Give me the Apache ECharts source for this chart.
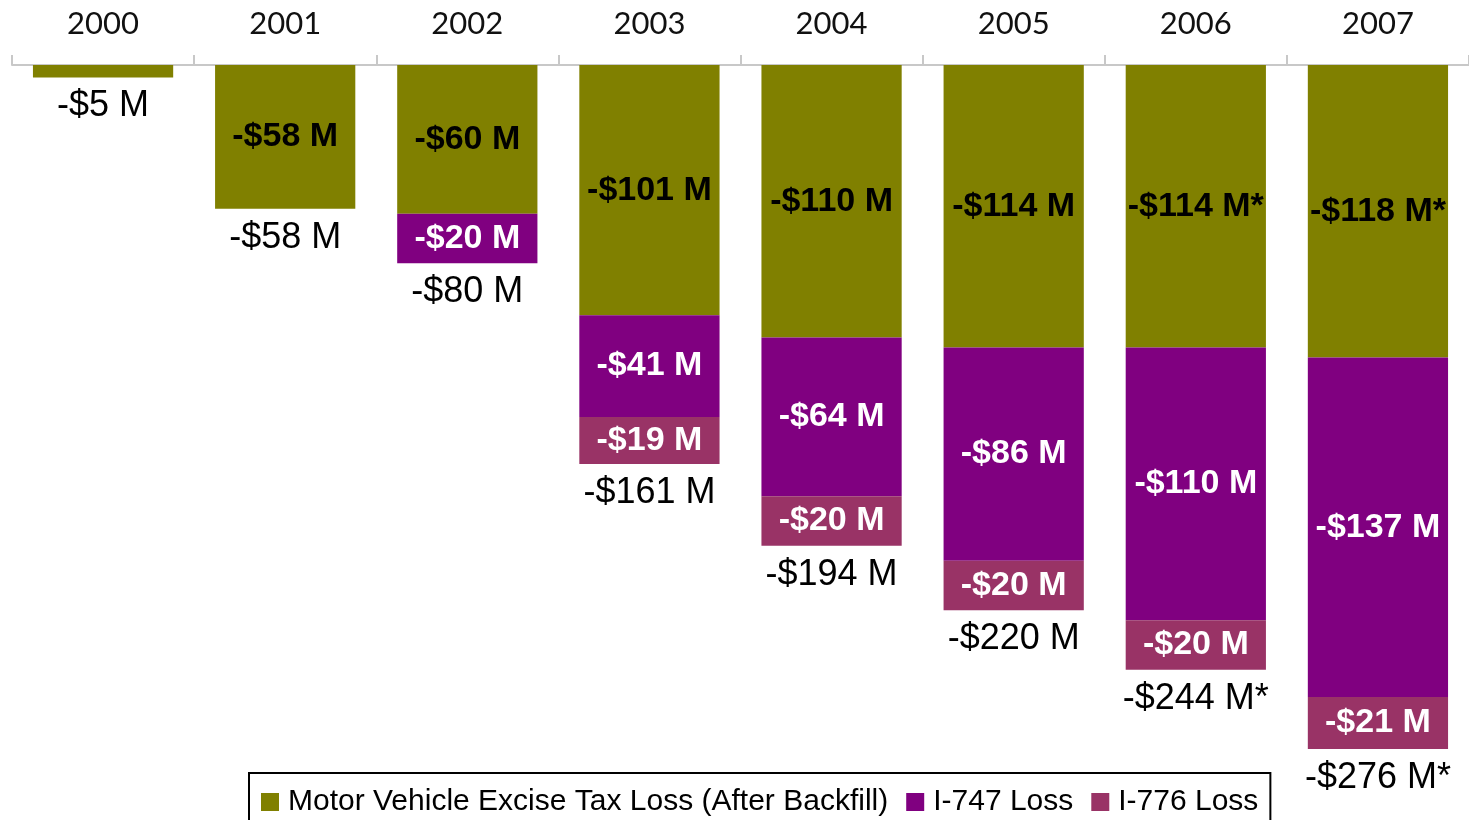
<!DOCTYPE html>
<html>
<head>
<meta charset="utf-8">
<script src="https://cdn.jsdelivr.net/npm/echarts@6/dist/echarts.min.js"></script>
<style>
  html, body { margin: 0; padding: 0; background: #fff; }
  #main { width: 1469px; height: 820px; }
</style>
</head>
<body>
<div id="main"></div>
<script>
const years = ['2000', '2001', '2002', '2003', '2004', '2005', '2006', '2007']
// values in $ millions (losses, so negative)
const mvetLoss = [-5, -58, -60, -101, -110, -114, -114, -118]
const i747Loss = [0, 0, -20, -41, -64, -86, -110, -137]
const i776Loss = [0, 0, 0, -19, -20, -20, -20, -21]
const totalLoss = [-5, -58, -80, -161, -194, -220, -244, -276]
const estimated = [false, false, false, false, false, false, true, true]

const chart = echarts.init(document.getElementById('main'))

function money(v, star) {
  return '-$' + Math.abs(v) + ' M' + (star ? '*' : '')
}

const insideLabel = (color, starred) => ({
  show: true,
  position: 'inside',
  color: color,
  fontFamily: 'Liberation Sans, Arial, sans-serif',
  fontWeight: 'bold',
  fontSize: 34,
  formatter: p => Math.abs(p.value) < 10 ? '' : money(p.value, starred && estimated[p.dataIndex])
})

const option = {
  backgroundColor: '#fff',
  animation: false,
  grid: { left: 12, right: 0, top: 65, bottom: 11.5 },
  legend: {
    left: 249,
    top: 773,
    icon: 'rect',
    itemWidth: 18,
    itemHeight: 18,
    itemGap: 18,
    padding: [14, 12, 40, 12],
    borderColor: '#000',
    borderWidth: 2,
    textStyle: {
      fontFamily: 'Liberation Sans Narrow, Arial Narrow, sans-serif',
      fontSize: 30,
      color: '#000',
      padding: [0, 0, 0, 4]
    },
    data: ['Motor Vehicle Excise Tax Loss (After Backfill)', 'I-747 Loss', 'I-776 Loss']
  },
  xAxis: {
    type: 'category',
    position: 'top',
    data: years,
    axisLine: { show: true, lineStyle: { color: '#c8c8c8', width: 2 } },
    axisTick: { show: true, length: 10, lineStyle: { color: '#c8c8c8', width: 2 } },
    axisLabel: {
      color: '#111',
      fontFamily: 'Lato, sans-serif',
      fontSize: 31,
      margin: 26
    }
  },
  yAxis: {
    type: 'value',
    min: -300,
    max: 0,
    show: false,
    splitLine: { show: false }
  },
  series: [
    {
      name: 'Motor Vehicle Excise Tax Loss (After Backfill)',
      type: 'bar',
      stack: 'loss',
      barWidth: '77%',
      itemStyle: { color: '#808000' },
      label: insideLabel('#000', true),
      data: mvetLoss
    },
    {
      name: 'I-747 Loss',
      type: 'bar',
      stack: 'loss',
      itemStyle: { color: '#800080' },
      label: insideLabel('#fff', false),
      data: i747Loss
    },
    {
      name: 'I-776 Loss',
      type: 'bar',
      stack: 'loss',
      itemStyle: { color: '#993366' },
      label: insideLabel('#fff', false),
      data: i776Loss
    },
    {
      name: 'Total',
      type: 'scatter',
      symbolSize: 0,
      silent: true,
      itemStyle: { opacity: 1, color: 'transparent' },
      label: {
        show: true,
        position: 'bottom',
        distance: 11,
        color: '#000',
        fontFamily: 'Liberation Sans, Arial, sans-serif',
        fontSize: 36,
        formatter: p => money(p.value, estimated[p.dataIndex])
      },
      data: totalLoss
    }
  ]
}

chart.setOption(option)
</script>
</body>
</html>
